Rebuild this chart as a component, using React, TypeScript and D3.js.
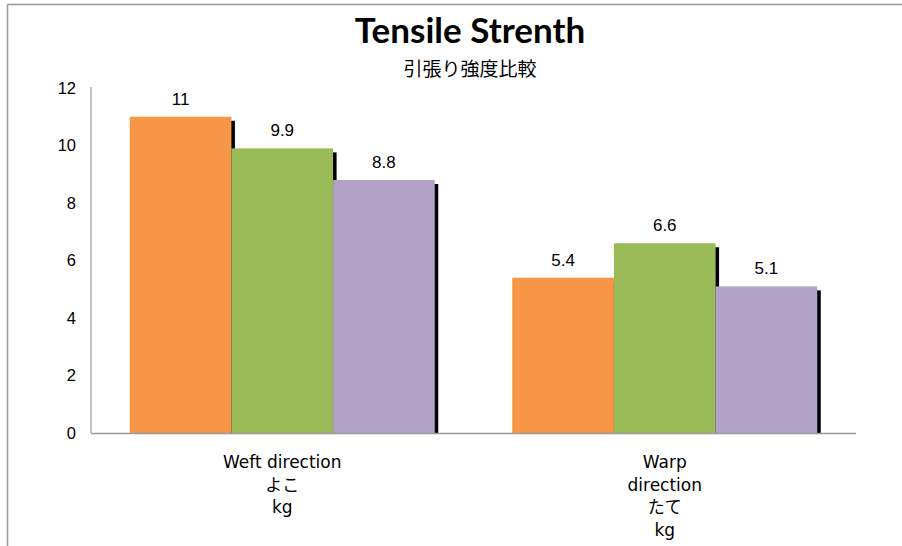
import React from "react";
import * as d3 from "d3";

const categories: string[][] = [
  ["Weft direction", "よこ", "kg"],
  ["Warp", "direction", "たて", "kg"],
];
const seriesNames = ["Series1", "Series2", "Series3"];
const series1 = [11, 5.4];
const series2 = [9.9, 6.6];
const series3 = [8.8, 5.1];
const yTicks = [0, 2, 4, 6, 8, 10, 12];
const colors = ["#F79646", "#9BBB59", "#B3A2C7"];
const title = "Tensile Strenth";
const subtitle = "引張り強度比較";

const W = 902;
const H = 546;
const left = 91;
const right = 856;
const top = 88;
const bottom = 433;

export default function App() {
  const allSeries = [series1, series2, series3];
  const catKeys = categories.map((c, i) => String(i));
  const x0 = d3.scaleBand<string>().domain(catKeys).range([left, right]).padding(0);
  const x1 = d3
    .scaleBand<string>()
    .domain(seriesNames)
    .range([0, x0.bandwidth()])
    .paddingInner(0)
    .paddingOuter(0.381);
  const y = d3.scaleLinear().domain([0, 12]).range([bottom, top]);

  const latin = "'Liberation Sans', Arial, sans-serif";
  const cat = "'DejaVu Sans', 'Noto Sans CJK JP', sans-serif";

  return (
    <svg
      width={W}
      height={H}
      style={{ position: "absolute", left: 0, top: 0, background: "#fff" }}
    >
      <rect x={0} y={0} width={W} height={H} fill="#fff" />
      {/* chart border */}
      <line x1={7.5} y1={4.5} x2={W} y2={4.5} stroke="#999" strokeWidth={1.5} />
      <line x1={7.5} y1={4.5} x2={7.5} y2={H} stroke="#999" strokeWidth={1.5} />

      <text
        x={470}
        y={43}
        textAnchor="middle"
        fontFamily="Lato, 'Open Sans', sans-serif"
        fontWeight="bold"
        fontSize={35}
        fill="#000"
      >
        {title}
      </text>
      <text
        x={470}
        y={76}
        textAnchor="middle"
        fontFamily="'Noto Sans CJK JP', sans-serif"
        fontSize={19}
        fill="#000"
      >
        {subtitle}
      </text>

      {/* y ticks */}
      {yTicks.map((t) => (
        <text
          key={t}
          x={76}
          y={y(t)}
          dy="0.35em"
          textAnchor="end"
          fontFamily={latin}
          fontSize={16.5}
          fill="#000"
        >
          {t}
        </text>
      ))}

      {/* bars */}
      {catKeys.map((ck, ci) => (
        <g key={ck}>
          {allSeries.map((s, si) => {
            const bx = (x0(ck) as number) + (x1(seriesNames[si]) as number);
            const bw = x1.bandwidth();
            const by = y(s[ci]);
            return (
              <g key={si}>
                <rect x={bx + 3.5} y={by + 4} width={bw} height={bottom - by - 4} fill="#000" />
                <rect x={bx} y={by} width={bw} height={bottom - by} fill={colors[si]} />
              </g>
            );
          })}
          {allSeries.map((s, si) => {
            const bx = (x0(ck) as number) + (x1(seriesNames[si]) as number);
            const bw = x1.bandwidth();
            return (
              <text
                key={"l" + si}
                x={bx + bw / 2}
                y={y(s[ci]) - 12}
                textAnchor="middle"
                fontFamily={latin}
                fontSize={17}
                fill="#000"
              >
                {String(s[ci])}
              </text>
            );
          })}
          {categories[ci].map((line, li) => (
            <text
              key={"c" + li}
              x={(x0(ck) as number) + x0.bandwidth() / 2}
              y={468 + li * 22.5}
              textAnchor="middle"
              fontFamily={cat}
              fontSize={17}
              fill="#000"
            >
              {line}
            </text>
          ))}
        </g>
      ))}

      {/* axes */}
      <line x1={left} y1={top - 1} x2={left} y2={bottom} stroke="#868686" strokeWidth={1} />
      <line x1={left} y1={bottom + 0.5} x2={right} y2={bottom + 0.5} stroke="#999" strokeWidth={1.5} />
    </svg>
  );
}
